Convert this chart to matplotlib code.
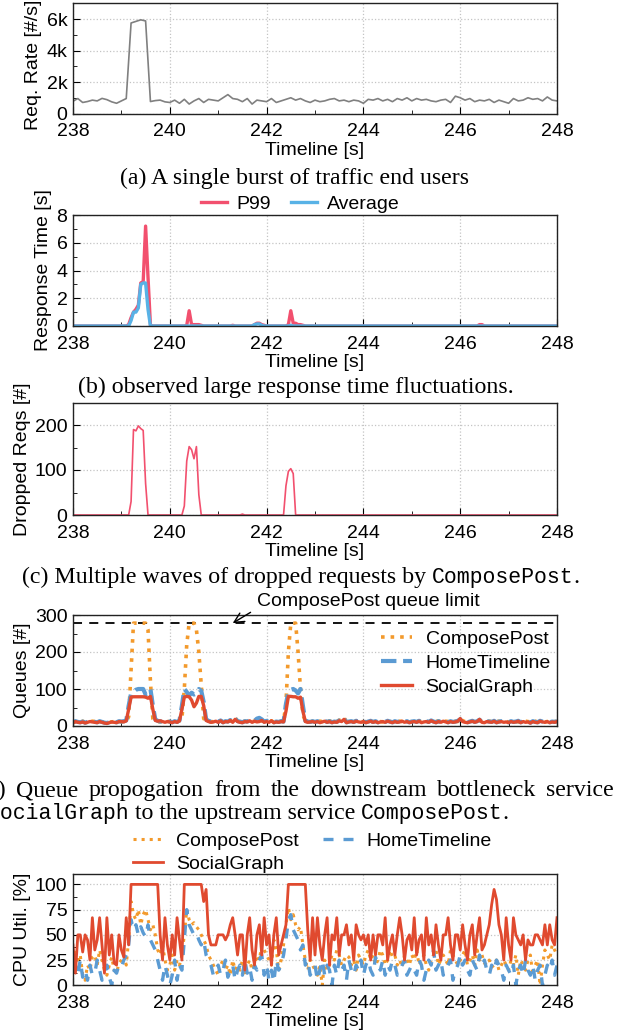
import matplotlib
matplotlib.use("Agg")
from matplotlib import pyplot as plt
import numpy as np

SANS = "Liberation Sans"
SERIF = "Liberation Serif"
MONO = "Liberation Mono"
plt.rcParams["font.family"] = [SANS, "DejaVu Sans"]

W, H = 624, 1033

# ---------------- data ----------------
# (a) request rate, sampled every 0.1 s
req_rate = [
    780, 950, 700, 760, 850, 800, 960, 880, 740, 650,
    800, 950, 5750, 5850, 5950, 5880, 760, 820, 850, 740,
    700, 850, 650, 900, 600, 800, 950, 700, 900, 850,
    800, 1000, 1200, 950, 900, 750, 950, 600, 850, 800,
    750, 950, 700, 800, 900, 1000, 850, 950, 800, 700,
    850, 750, 800, 900, 950, 800, 850, 750, 850, 800,
    650, 900, 850, 950, 800, 900, 750, 950, 850, 1000,
    800, 950, 850, 900, 800, 750, 850, 900, 700, 1100,
    1000, 850, 950, 750, 850, 800, 900, 700, 850, 750,
    650, 950, 800, 850, 1000, 900, 950, 800, 1050, 850,
    800,
]

# the rest sampled every 0.05 s (one row = one second)
rt_p99 = [
    0, 0, 0, 0, 0, 0, 0, 0, 0, 0, 0, 0, 0, 0, 0, 0, 0, 0, 0, 0,
    0, 0, 0, 0.1, 0.6, 1.0, 1.2, 1.5, 3.1, 3.2, 7.2, 3.5, 0.05, 0, 0, 0, 0, 0, 0, 0,
    0, 0, 0, 0, 0, 0, 0, 0.05, 1.1, 0.1, 0.1, 0.1, 0.1, 0.05, 0, 0, 0, 0, 0, 0,
    0, 0, 0, 0, 0, 0, 0.05, 0, 0, 0, 0, 0, 0, 0, 0, 0.1, 0.2, 0.2, 0.1, 0.05,
    0, 0, 0, 0, 0, 0, 0, 0, 0, 0.1, 1.1, 0.2, 0.2, 0.1, 0.1, 0.05, 0, 0, 0, 0,
    0, 0, 0, 0, 0, 0, 0, 0, 0, 0, 0, 0, 0, 0, 0, 0, 0, 0, 0, 0,
    0, 0, 0, 0, 0, 0, 0, 0, 0, 0, 0, 0, 0, 0, 0, 0, 0, 0, 0, 0,
    0, 0, 0, 0, 0, 0, 0, 0, 0, 0, 0, 0, 0, 0, 0, 0, 0, 0, 0, 0,
    0, 0, 0, 0, 0, 0, 0, 0, 0.1, 0.1, 0, 0, 0, 0, 0, 0, 0, 0, 0, 0,
    0, 0, 0, 0, 0, 0, 0, 0, 0, 0, 0, 0, 0, 0, 0, 0, 0, 0, 0, 0,
    0,
]
rt_avg = [
    0, 0, 0, 0, 0, 0, 0, 0, 0, 0, 0, 0, 0, 0, 0, 0, 0, 0, 0, 0,
    0, 0, 0, 0, 0.4, 1.0, 1.0, 1.3, 3.0, 3.1, 3.1, 1.2, 0, 0, 0, 0, 0, 0, 0, 0,
    0, 0, 0, 0, 0, 0, 0, 0, 0, 0, 0, 0, 0, 0, 0, 0, 0, 0, 0, 0,
    0, 0, 0, 0, 0, 0, 0, 0, 0, 0, 0, 0, 0, 0, 0, 0.1, 0.15, 0.15, 0.05, 0,
    0, 0, 0, 0, 0, 0, 0, 0, 0, 0, 0.05, 0, 0, 0, 0, 0, 0, 0, 0, 0,
    0, 0, 0, 0, 0, 0, 0, 0, 0, 0, 0, 0, 0, 0, 0, 0, 0, 0, 0, 0,
    0, 0, 0, 0, 0, 0, 0, 0, 0, 0, 0, 0, 0, 0, 0, 0, 0, 0, 0, 0,
    0, 0, 0, 0, 0, 0, 0, 0, 0, 0, 0, 0, 0, 0, 0, 0, 0, 0, 0, 0,
    0, 0, 0, 0, 0, 0, 0, 0, 0, 0, 0, 0, 0, 0, 0, 0, 0, 0, 0, 0,
    0, 0, 0, 0, 0, 0, 0, 0, 0, 0, 0, 0, 0, 0, 0, 0, 0, 0, 0, 0,
    0,
]

dropped = [
    0, 0, 0, 0, 0, 0, 0, 0, 0, 0, 0, 0, 0, 0, 0, 0, 0, 0, 0, 0,
    0, 0, 0, 0, 30, 190, 187, 198, 192, 188, 70, 0, 0, 0, 0, 0, 0, 0, 0, 0,
    0, 0, 0, 0, 0, 0, 20, 120, 152, 145, 125, 152, 45, 0, 0, 0, 0, 0, 0, 0,
    0, 0, 0, 0, 0, 0, 0, 0, 0, 0, 2, 0, 0, 0, 0, 0, 0, 0, 0, 0,
    0, 0, 0, 0, 0, 0, 0, 0, 65, 97, 103, 92, 0, 0, 0, 0, 0, 0, 0, 0,
    0, 0, 0, 0, 0, 0, 0, 0, 0, 0, 0, 0, 0, 0, 0, 0, 0, 0, 0, 0,
    0, 0, 0, 0, 0, 0, 0, 0, 0, 0, 0, 0, 0, 0, 0, 0, 0, 0, 0, 0,
    0, 0, 0, 0, 0, 0, 0, 0, 0, 0, 0, 0, 0, 0, 0, 0, 0, 0, 0, 0,
    0, 0, 0, 0, 0, 0, 0, 0, 0, 0, 0, 0, 0, 0, 0, 0, 0, 0, 0, 0,
    0, 0, 0, 0, 0, 0, 0, 0, 0, 0, 0, 0, 0, 0, 0, 0, 0, 0, 0, 0,
    0,
]

queue_limit = 278
q_compose = [
    9, 12, 10, 11, 13, 10, 12, 11, 13, 12, 11, 12, 10, 11, 9, 10, 11, 12, 11, 12,
    11, 12, 13, 25, 150, 278, 278, 278, 278, 278, 278, 260, 120, 20, 14, 12, 11, 12, 10, 12,
    12, 10, 13, 11, 14, 20, 100, 220, 278, 278, 278, 260, 200, 110, 20, 13, 12, 11, 12, 13,
    12, 14, 11, 12, 13, 15, 12, 22, 14, 11, 12, 13, 12, 14, 12, 13, 15, 18, 14, 12,
    13, 11, 14, 10, 12, 11, 13, 12, 60, 200, 278, 278, 278, 200, 100, 30, 14, 12, 11, 13,
    12, 11, 13, 12, 15, 12, 14, 11, 13, 12, 16, 14, 22, 12, 13, 12, 11, 14, 13, 12,
    11, 12, 13, 11, 12, 10, 13, 12, 11, 12, 14, 12, 11, 10, 12, 13, 12, 11, 12, 11,
    12, 11, 12, 14, 11, 12, 10, 12, 13, 11, 12, 14, 12, 11, 13, 12, 11, 12, 13, 12,
    21, 14, 12, 11, 12, 13, 12, 19, 14, 12, 11, 12, 13, 12, 11, 12, 13, 11, 12, 12,
    11, 12, 13, 12, 11, 10, 12, 13, 12, 11, 12, 13, 11, 12, 13, 11, 12, 12, 11, 12,
    12,
]
q_home = [
    10, 13, 11, 10, 12, 9, 11, 13, 12, 11, 10, 13, 11, 9, 8, 10, 12, 11, 10, 13,
    12, 13, 15, 55, 88, 92, 98, 100, 100, 100, 85, 90, 100, 55, 18, 14, 12, 13, 11, 12,
    12, 10, 13, 11, 15, 55, 100, 92, 82, 90, 85, 88, 100, 95, 65, 18, 14, 12, 11, 13,
    11, 15, 10, 13, 12, 16, 11, 20, 13, 12, 10, 13, 12, 15, 11, 14, 20, 22, 18, 12,
    14, 12, 15, 10, 12, 11, 13, 12, 60, 92, 98, 100, 96, 88, 100, 55, 14, 12, 11, 13,
    11, 13, 10, 12, 14, 11, 13, 10, 12, 11, 15, 13, 20, 10, 12, 13, 11, 14, 12, 11,
    13, 10, 12, 14, 11, 13, 10, 12, 13, 11, 14, 12, 10, 13, 11, 12, 14, 11, 13, 10,
    12, 13, 11, 14, 10, 12, 13, 11, 15, 12, 10, 13, 11, 14, 12, 10, 13, 11, 12, 14,
    18, 13, 11, 10, 12, 14, 11, 13, 17, 11, 10, 13, 12, 11, 14, 10, 12, 13, 11, 12,
    10, 13, 11, 12, 14, 10, 13, 11, 12, 9, 13, 11, 10, 14, 12, 11, 13, 10, 12, 11,
    13,
]
q_social = [
    8, 12, 10, 9, 11, 8, 10, 12, 11, 10, 9, 12, 10, 8, 7, 9, 11, 10, 9, 12,
    12, 11, 14, 45, 78, 79, 79, 79, 79, 79, 78, 75, 80, 45, 15, 13, 14, 12, 10, 12,
    11, 9, 12, 10, 14, 45, 78, 80, 79, 70, 52, 62, 80, 80, 55, 15, 12, 10, 11, 13,
    10, 14, 9, 12, 11, 15, 10, 18, 12, 10, 9, 12, 11, 14, 10, 13, 11, 12, 15, 10,
    12, 10, 14, 9, 11, 10, 12, 11, 40, 80, 80, 79, 79, 75, 78, 40, 12, 10, 11, 12,
    10, 12, 9, 11, 13, 10, 12, 9, 11, 10, 14, 12, 18, 9, 11, 12, 10, 13, 11, 10,
    12, 9, 11, 13, 10, 12, 9, 11, 12, 10, 13, 11, 9, 12, 10, 11, 13, 10, 12, 9,
    11, 12, 10, 13, 9, 11, 12, 10, 14, 11, 9, 12, 10, 13, 11, 9, 12, 10, 11, 13,
    20, 12, 10, 9, 11, 13, 10, 12, 18, 10, 9, 12, 11, 10, 13, 9, 11, 12, 10, 11,
    9, 12, 10, 11, 13, 9, 12, 10, 11, 8, 12, 10, 9, 13, 11, 10, 12, 9, 11, 10,
    12,
]

cpu_compose = [
    20, 35, 25, 30, 10, 5, 20, 15, 28, 30, 20, 35, 25, 15, 10, 20, 28, 15, 12, 22,
    25, 30, 20, 45, 83, 70, 65, 75, 60, 70, 75, 65, 55, 60, 50, 35, 30, 40, 25, 15,
    20, 30, 15, 25, 20, 30, 50, 75, 65, 60, 62, 58, 55, 50, 45, 40, 30, 25, 20, 15,
    10, 20, 25, 15, 20, 10, 25, 15, 20, 15, 25, 10, 20, 25, 15, 20, 30, 25, 40, 35,
    30, 25, 20, 45, 35, 15, 25, 40, 60, 77, 65, 70, 60, 55, 58, 40, 25, 15, 25, 20,
    15, 10, 20, 0, 25, 15, 20, 30, 25, 35, 30, 20, 25, 30, 28, 20, 25, 15, 30, 25,
    20, 30, 35, 25, 30, 20, 25, 35, 30, 20, 25, 35, 28, 30, 20, 25, 18, 30, 25, 20,
    30, 25, 35, 20, 25, 30, 20, 15, 25, 30, 35, 20, 25, 30, 25, 20, 35, 30, 25, 20,
    25, 30, 35, 20, 25, 30, 20, 35, 25, 30, 22, 20, 25, 18, 20, 25, 15, 20, 25, 20,
    15, 25, 20, 30, 10, 25, 20, 15, 25, 30, 10, 20, 25, 0, 20, 35, 30, 25, 40, 35,
    30,
]
cpu_home = [
    15, 20, 10, 25, 8, 15, 5, 20, 10, 12, 25, 15, 5, 10, 20, 8, 0, 15, 12, 20,
    18, 25, 30, 40, 65, 55, 60, 50, 58, 52, 48, 60, 45, 40, 35, 25, 15, 5, 20, 10,
    0, 10, 25, 5, 20, 15, 45, 75, 60, 55, 50, 52, 45, 40, 45, 30, 25, 20, 10, 15,
    20, 10, 15, 25, 8, 15, 20, 5, 15, 20, 10, 25, 12, 18, 5, 20, 15, 25, 30, 10,
    20, 5, 15, 3, 25, 15, 20, 30, 45, 65, 70, 55, 50, 45, 35, 40, 20, 25, 10, 15,
    20, 5, 15, 25, 10, 20, 15, 0, 20, 10, 25, 15, 20, 5, 25, 15, 10, 20, 15, 25,
    10, 20, 25, 15, 10, 28, 20, 15, 25, 10, 20, 15, 25, 20, 10, 15, 20, 25, 10, 15,
    20, 15, 10, 25, 20, 5, 15, 25, 20, 35, 15, 20, 25, 10, 15, 20, 25, 5, 15, 20,
    30, 20, 25, 15, 10, 25, 20, 15, 30, 20, 25, 15, 10, 20, 15, 25, 20, 15, 5, 20,
    15, 10, 20, 0, 15, 20, 10, 25, 15, 10, 20, 5, 15, 20, 0, 10, 20, 15, 25, 10,
    20,
]
cpu_social = [
    40, 12, 50, 50, 33, 50, 45, 25, 67, 35, 45, 67, 40, 12, 67, 30, 50, 22, 20, 50,
    35, 28, 67, 40, 100, 100, 100, 100, 100, 100, 100, 100, 100, 100, 100, 100, 50, 25, 67, 40,
    25, 50, 30, 67, 45, 25, 100, 100, 100, 100, 100, 100, 100, 100, 83, 95, 50, 40, 40, 40,
    50, 50, 50, 45, 50, 60, 67, 50, 30, 50, 50, 15, 50, 67, 35, 20, 50, 60, 30, 67,
    40, 50, 20, 50, 67, 30, 40, 50, 60, 100, 100, 100, 100, 100, 100, 100, 100, 55, 25, 67,
    30, 67, 40, 25, 50, 67, 20, 50, 45, 67, 30, 50, 50, 60, 40, 50, 25, 60, 50, 45,
    50, 40, 50, 25, 50, 30, 50, 50, 40, 67, 25, 40, 50, 30, 50, 67, 50, 25, 45, 50,
    35, 67, 30, 45, 50, 25, 67, 40, 50, 30, 60, 40, 25, 50, 50, 67, 40, 25, 50, 50,
    35, 60, 40, 25, 50, 60, 30, 50, 67, 35, 40, 50, 60, 80, 95, 85, 60, 50, 25, 67,
    40, 25, 67, 50, 45, 40, 50, 25, 45, 40, 40, 50, 50, 45, 40, 60, 40, 60, 45, 40,
    67,
]

t10 = np.linspace(238, 248, len(req_rate))
t20 = np.linspace(238, 248, len(rt_p99))

GRAY = "#808080"
PINK = "#f2506e"
SKY = "#58b2e6"
ORANGE = "#f39a2c"
BLUE = "#5b9bd3"
RED = "#e04a2f"
FS = 14

fig = plt.figure(figsize=(W / 100, H / 100), dpi=100)


def make_axes(top_px, bottom_px):
    return fig.add_axes([73 / W, 1 - bottom_px / H, 484 / W, (bottom_px - top_px) / H])


def style(ax, ylim, yticks, yminor, ylabel, ylabels=None):
    ax.set_xlim(238, 248)
    ax.set_ylim(*ylim)
    ax.set_xticks([238, 240, 242, 244, 246, 248])
    ax.set_xticks([239, 241, 243, 245, 247], minor=True)
    ax.set_yticks(yticks)
    if ylabels is not None:
        ax.set_yticklabels(ylabels)
    ax.set_yticks(yminor, minor=True)
    ax.grid(True, which="major", linestyle=":", color="#c4c4c4", linewidth=0.9)
    ax.tick_params(which="both", direction="in", labelsize=FS)
    ax.tick_params(axis="x", which="both", pad=7)
    ax.tick_params(axis="y", which="both", pad=4)
    ax.tick_params(which="major", length=5)
    ax.tick_params(which="minor", length=3)
    for s in ax.spines.values():
        s.set_linewidth(1.0)
        s.set_color("#222222")
    ax.set_xlabel("Timeline [s]", fontsize=FS, labelpad=1)
    ax.set_ylabel(ylabel, fontsize=FS, labelpad=3)


# (a)
ax1 = make_axes(3.3, 113.5)
ax1.plot(t10, req_rate, color=GRAY, lw=1.2)
style(ax1, (0, 7000), [0, 2000, 4000, 6000], [1000, 3000, 5000], "Req. Rate [#/s]",
      ["0", "2k", "4k", "6k"])
ax1.yaxis.label.set_y(0.44)

# (b)
ax2 = make_axes(215, 326)
ax2.plot(t20, rt_p99, color=PINK, lw=2.4, label="P99")
ax2.plot(t20, rt_avg, color=SKY, lw=2.4, label="Average")
style(ax2, (0, 8), [0, 2, 4, 6, 8], [1, 3, 5, 7], "Response Time [s]")
ax2.legend(loc="lower center", bbox_to_anchor=(0.469, 1.02), ncol=2, frameon=False,
           fontsize=FS, handlelength=1.35, handletextpad=0.5, columnspacing=1.0,
           borderpad=0, borderaxespad=0)

# (c)
ax3 = make_axes(402.5, 515)
ax3.plot(t20, dropped, color=PINK, lw=1.2)
style(ax3, (0, 250), [0, 100, 200], [50, 150], "Dropped Reqs [#]")

# (d)
ax4 = make_axes(615, 726)
ax4.axhline(queue_limit, color="black", ls=(0, (5, 4)), lw=1.3)
ax4.plot(t20, q_compose, color=ORANGE, ls=":", lw=2.6, label="ComposePost")
ax4.plot(t20, q_home, color=BLUE, ls="--", lw=3.0, label="HomeTimeline")
ax4.plot(t20, q_social, color=RED, ls="-", lw=2.4, label="SocialGraph")
style(ax4, (0, 300), [0, 100, 200, 300], [50, 150, 250], "Queues [#]")
ax4.legend(loc="center left", bbox_to_anchor=(0.636, 0.568), frameon=False, fontsize=FS,
           handlelength=1.6, handletextpad=0.7, labelspacing=0.33, borderpad=0,
           borderaxespad=0)
ax4.annotate("ComposePost queue limit", xy=(241.3, queue_limit), xytext=(241.8, 336),
             fontsize=14, va="center", ha="left", annotation_clip=False,
             arrowprops=dict(arrowstyle="->,head_length=0.5,head_width=0.25", color="black",
                             lw=1.0, relpos=(0, 0.1), shrinkA=3, shrinkB=0))

# (e)
ax5 = make_axes(874.3, 985.3)
l_cp, = ax5.plot(t20, cpu_compose, color=ORANGE, ls=":", lw=2.2, label="ComposePost")
l_ht, = ax5.plot(t20, cpu_home, color=BLUE, ls=(0, (3, 3)), lw=2.4, label="HomeTimeline")
l_sg, = ax5.plot(t20, cpu_social, color=RED, ls="-", lw=2.0, label="SocialGraph")
style(ax5, (0, 110), [0, 25, 50, 75, 100], [12.5, 37.5, 62.5, 87.5], "CPU Util. [%]")
# column-major fill: CP, SG in column 1, HT in column 2
ax5.legend([l_cp, l_sg, l_ht], ["ComposePost", "SocialGraph", "HomeTimeline"],
           loc="lower center", bbox_to_anchor=(0.494, 1.01), ncol=2, frameon=False,
           fontsize=FS, handlelength=1.55, handletextpad=0.7, columnspacing=1.2,
           labelspacing=0.3, borderpad=0, borderaxespad=0)

# ---------------- captions ----------------
CAP = 17.2
MONO_FS = 15.5
renderer = fig.canvas.get_renderer()


def width_of(s, fam, fs):
    t = fig.text(0, 0, s, family=fam, fontsize=fs)
    w = t.get_window_extent(renderer).width
    t.remove()
    return w


def runs(x_px, y_px, parts, center=False):
    space = width_of("a a", SERIF, CAP) - width_of("aa", SERIF, CAP)
    widths = [width_of(s, fam, fs) for s, fam, fs, _ in parts]
    total = sum(widths) + space * sum(1 for p in parts if p[3])
    x = x_px - total / 2 if center else x_px
    for (s, fam, fs, gap), w in zip(parts, widths):
        fig.text(x / W, 1 - y_px / H, s, family=fam, fontsize=fs, ha="left", va="baseline")
        x += w + (space if gap else 0)


def justified(x0, x1, y_px, words):
    widths = [width_of(w, SERIF, CAP) for w in words]
    gap = (x1 - x0 - sum(widths)) / (len(words) - 1)
    x = x0
    for w, wd in zip(words, widths):
        fig.text(x / W, 1 - y_px / H, w, family=SERIF, fontsize=CAP, ha="left", va="baseline")
        x += wd + gap


fig.text(294 / W, 1 - 184 / H, "(a) A single burst of traffic end users",
         family=SERIF, fontsize=CAP, ha="center", va="baseline")
fig.text(296 / W, 1 - 393 / H, "(b) observed large response time fluctuations.",
         family=SERIF, fontsize=CAP, ha="center", va="baseline")
runs(301, 583, [("(c) Multiple waves of dropped requests by", SERIF, CAP, True),
                ("ComposePost", MONO, MONO_FS, False),
                (".", SERIF, CAP, False)], center=True)
justified(-22, 614, 796, ["(d)", "Queue", "propogation", "from", "the", "downstream",
                          "bottleneck", "service"])
runs(-13, 819, [("SocialGraph", MONO, MONO_FS, True),
                ("to the upstream service", SERIF, CAP, True),
                ("ComposePost", MONO, MONO_FS, False),
                (".", SERIF, CAP, False)])

fig.savefig("out.png", dpi=100)
